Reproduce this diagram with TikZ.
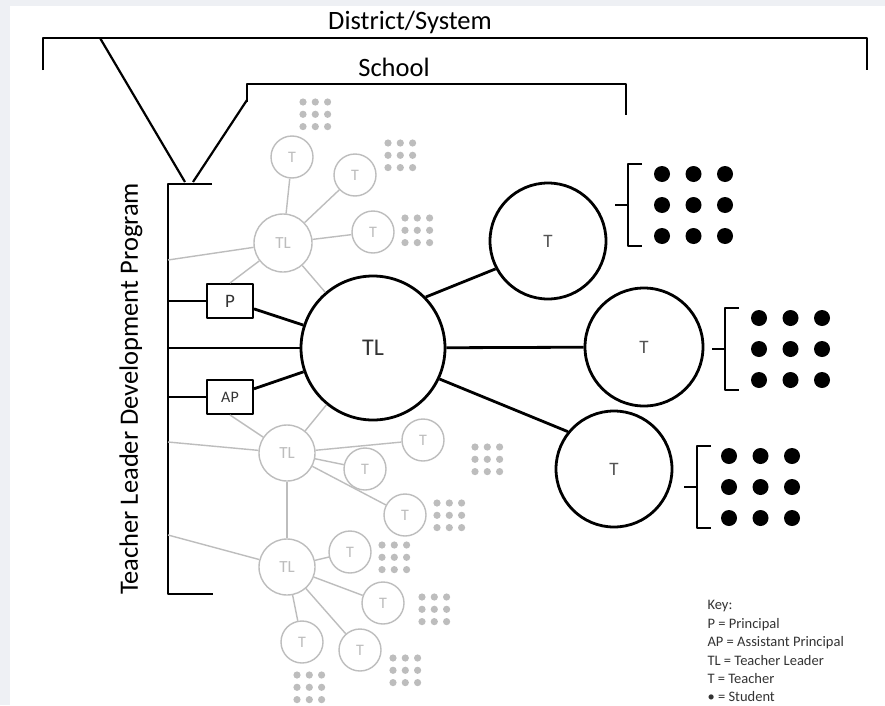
\documentclass[tikz,border=0pt]{standalone}
\usepackage{fontspec}
\setmainfont{Carlito}
\usetikzlibrary{positioning}
\usepackage{xcolor}
\definecolor{pagegray}{HTML}{EEF0F4}
\definecolor{fade}{HTML}{BDBDBD}
\definecolor{ink}{HTML}{333333}
\definecolor{tgray}{HTML}{555555}

\newcommand{\fs}[1]{\fontsize{#1}{#1}\selectfont}

\begin{document}
\begin{tikzpicture}[x=1pt,y=1pt,line join=round,
  heavy/.style={line width=2.8pt},
  frame/.style={line width=2.2pt},
  person/.style={circle,draw,line width=2.8pt,inner sep=0pt,minimum size=#1},
  pale/.style={circle,draw=fade,line width=1.4pt,inner sep=0pt,text=fade,minimum size=#1},
  paleline/.style={draw=fade,line width=1.4pt},
  admin/.style={draw,line width=2pt,minimum width=46pt,minimum height=34pt,inner sep=0pt}]
  \fill[pagegray] (0,0) rectangle (885,-705);
  \fill[white] (10,-6) rectangle (885,-705);

  % brackets
  \draw[frame] (43,-70) -- (43,-38) -- (867,-38) -- (867,-70);
  \node[font=\fs{26.5}] (district) at (410,-22) {District/System};
  \draw[frame] (247,-102) -- (247,-84) -- (626,-84) -- (626,-115);
  \node[font=\fs{26.5}] (school) at (394,-67) {School};
  \draw[frame] (212,-184) -- (168,-184) -- (168,-594) -- (213,-594);
  \draw[frame] (100,-38) -- (185,-182);
  \draw[frame] (193,-182) -- (247,-100);
  \node[rotate=90,font=\fs{26.5}] (program) at (131,-389) {Teacher Leader Development Program};

  % main nodes
  \node[person=144pt,font=\fs{24},text=ink] (TL) at (373,-348) {TL};
  \node[person=116pt,font=\fs{19},text=tgray] (T1) at (548,-241) {T};
  \node[person=118pt,font=\fs{19},text=tgray] (T2) at (644,-347) {T};
  \node[person=116pt,font=\fs{19},text=tgray] (T3) at (614,-469) {T};
  \node[admin,font=\fs{19},text=ink] (P) at (230,-301) {P};
  \node[admin,font=\fs{16},text=ink] (AP) at (230,-397) {AP};

  % other teacher leaders
  \node[pale=58pt,font=\fs{17}] (ta) at (283,-243) {TL};
  \node[pale=56pt,font=\fs{17}] (tb) at (287,-453) {TL};
  \node[pale=56pt,font=\fs{17}] (tc) at (287,-567) {TL};
  \foreach \n/\x/\y in {a1/292/157,a2/355/175,a3/373/232,b1/423/440,b2/365/469,
      b3/405/515,c1/350/552,c2/383/603,c3/360/650,c4/302/642}
    \node[pale=42pt,font=\fs{16}] (t\n) at (\x,-\y) {T};
  \foreach \n in {1,2,3} {
    \draw[paleline] (ta) -- (ta\n);
    \draw[paleline] (tb) -- (tb\n);
  }
  \foreach \n in {1,...,4}
    \draw[paleline] (tc) -- (tc\n);
  \coordinate (ja) at (168,-260);
  \coordinate (jb) at (168,-442);
  \coordinate (jc) at (168,-535);
  \draw[paleline] (ja) -- (ta);
  \draw[paleline] (jb) -- (tb);
  \draw[paleline] (jc) -- (tc);
  \draw[paleline] (tb) -- (tc);
  \draw[paleline] (ta) -- (P.north);
  \draw[paleline] (ta) -- (TL);
  \draw[paleline] (tb) -- (AP.south);
  \draw[paleline] (tb) -- (TL);
  \foreach \gx/\gy in {303/102,388/143,405/218,475/447,437/503,382/545,422/597,393/658,297/675}
    \foreach \i in {0,1,2}
      \foreach \j in {0,1,2}
        \fill[fade] (\gx+12.3*\i,-\gy-12.3*\j) circle (3.6);

  % connectors
  \coordinate (jp) at (168,-301);
  \coordinate (jm) at (168,-348);
  \coordinate (jap) at (168,-397);
  \draw[heavy] (jp) -- (P);
  \draw[heavy] (jm) -- (TL);
  \draw[heavy] (jap) -- (AP);
  \draw[heavy] (P) -- (TL);
  \draw[heavy] (AP) -- (TL);
  \draw[heavy] (TL.44) -- (T1.208);
  \draw[heavy] (TL) -- (T2);
  \draw[heavy] (TL.-25) -- (T3.141);

  % students
  \foreach \bx/\by/\dx in {628/205/34,725/349/34,697/487/32} {
    \draw[frame] (\bx-13,-\by) -- (\bx,-\by);
    \draw[frame] (\bx+14,-\by+41) -- (\bx,-\by+41) -- (\bx,-\by-41) -- (\bx+14,-\by-41);
    \foreach \i in {0,1,2}
      \foreach \j in {-1,0,1}
        \fill (\bx+\dx+31.5*\i,-\by-31*\j) circle (8);
  }

  % key
  \node[anchor=north west,align=left,font=\fontsize{14.5}{18.4}\selectfont,text=ink] (key) at (704,-597)
    {Key:\\P = Principal\\AP = Assistant Principal\\TL = Teacher Leader\\T = Teacher\\• = Student};
\end{tikzpicture}
\end{document}
